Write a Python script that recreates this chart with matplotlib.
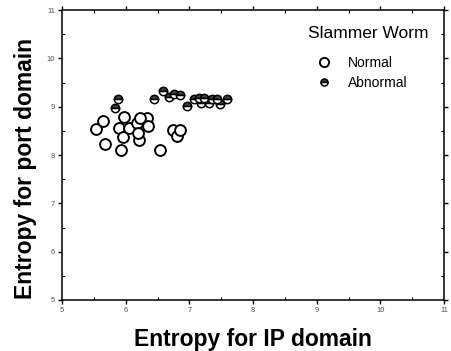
import numpy as np
import matplotlib
matplotlib.use("Agg")
import matplotlib.pyplot as plt
from matplotlib.ticker import MultipleLocator

# Slammer worm entropy readings (IP domain vs port domain)
normal_ip = [5.54, 5.65, 5.67, 5.89, 5.92, 5.98, 5.96, 6.05, 6.18, 6.21,
             6.19, 6.33, 6.35, 6.23, 6.54, 6.74, 6.81, 6.86]
normal_port = [8.53, 8.71, 8.23, 8.55, 8.10, 8.79, 8.37, 8.55, 8.66, 8.32,
               8.45, 8.76, 8.60, 8.76, 8.10, 8.52, 8.39, 8.52]

abnormal_ip = [5.84, 5.88, 6.44, 6.59, 6.68, 6.76, 6.86, 6.96, 7.07, 7.19,
               7.15, 7.23, 7.31, 7.36, 7.44, 7.48, 7.59]
abnormal_port = [8.97, 9.17, 9.17, 9.33, 9.21, 9.26, 9.24, 9.01, 9.17, 9.07,
                 9.19, 9.19, 9.07, 9.17, 9.15, 9.06, 9.15]

plt.rcParams["font.family"] = ["Liberation Sans", "DejaVu Sans"]

fig = plt.figure(figsize=(4.51, 3.51), dpi=100)
ax = fig.add_axes([0.1375, 0.1453, 0.847, 0.826])

ax.plot(normal_ip, normal_port, "o", ls="none", ms=7.8, mfc="white",
        mec="black", mew=1.4, label="Normal")
ax.plot(abnormal_ip, abnormal_port, "o", ls="none", ms=6, fillstyle="top",
        mfc="#444444", mfcalt="white", mec="black", mew=1.1, label="Abnormal")

ax.set_xlim(5, 11)
ax.set_ylim(5, 11)
ax.xaxis.set_major_locator(MultipleLocator(1))
ax.yaxis.set_major_locator(MultipleLocator(1))
ax.xaxis.set_minor_locator(MultipleLocator(0.5))
ax.yaxis.set_minor_locator(MultipleLocator(0.5))
ax.tick_params(which="major", direction="out", length=3, width=1,
               labelsize=5.5, labelcolor="#555555", pad=2,
               top=True, right=True)
ax.tick_params(which="minor", direction="in", length=2, width=0.8,
               top=True, right=True)
for sp in ax.spines.values():
    sp.set_linewidth(1.1)

ax.set_xlabel("Entropy for IP domain", fontsize=16.5, fontweight="bold",
              labelpad=10)
ax.set_ylabel("Entropy for port domain", fontsize=16.5, fontweight="bold")
ax.yaxis.set_label_coords(-0.065, 0.452)

# legend title drawn separately so the gap below it can match
fig.text(308 / 451, 1 - 33 / 351, "Slammer Worm", fontsize=12.5,
         va="center", ha="left")
leg = ax.legend(frameon=False, loc="upper left",
                bbox_to_anchor=(316 / 451, 1 - 56 / 351),
                bbox_transform=fig.transFigure, fontsize=10,
                handlelength=1.2, handletextpad=1.1, labelspacing=0.45,
                borderaxespad=0, borderpad=0, markerscale=0.85)

fig.savefig("out.png", dpi=100)
